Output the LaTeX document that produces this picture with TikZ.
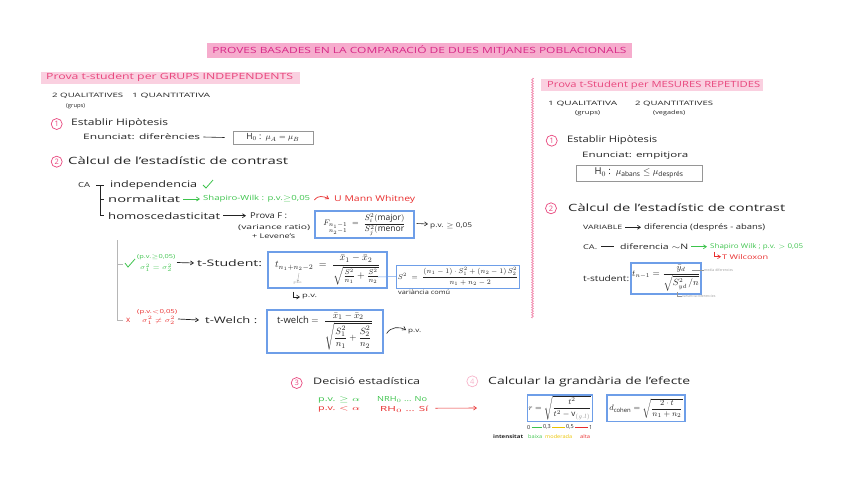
\documentclass[tikz,border=0pt]{standalone}
\usepackage{fontspec}
\setmainfont{Open Sans}
\usepackage{amsmath}
\usepackage{graphicx}
\usetikzlibrary{arrows.meta,decorations.pathmorphing,calc}
\definecolor{ink}{RGB}{35,35,35}
\definecolor{ttlpink}{RGB}{215,40,135}
\definecolor{hlpink}{RGB}{246,172,205}
\definecolor{hdpink}{RGB}{232,70,125}
\definecolor{hlpinkb}{RGB}{250,208,224}
\definecolor{cgreen}{RGB}{60,195,75}
\definecolor{cred}{RGB}{232,45,45}
\definecolor{cblue}{RGB}{110,158,232}
\definecolor{cyel}{RGB}{235,195,0}
\definecolor{cgrey}{RGB}{150,150,150}
\newcommand{\hw}[2]{\resizebox{#1pt}{\height}{#2}}
\tikzset{
  txt/.style={anchor=west,inner sep=0pt,text=ink},
  fs/.style={font=\fontsize{#1}{#1}\selectfont},
  num/.style={circle,draw=hdpink,text=hdpink,line width=0.7pt,inner sep=0pt,minimum size=11pt,font=\fontsize{7.5}{7.5}\selectfont},
  bbox/.style={draw=cblue,line width=1.3pt,inner sep=1pt,text=ink,font=\fontsize{8.5}{8.5}\selectfont},
  gbox/.style={draw=cgrey,line width=0.6pt,inner sep=1pt,text=ink,font=\fontsize{8.5}{9}\selectfont},
  arr/.style={-{Straight Barb[length=3pt,width=4pt]},line width=0.7pt},
}
\begin{document}
\begin{tikzpicture}[x=1pt,y=-1pt]
\useasboundingbox (0,0) rectangle (848,483);

% ---------- title ----------
\node[fill=hlpink,minimum width=425pt,minimum height=15pt,inner sep=0pt,text=ttlpink,fs=8.5] (title) at (419.5,50.5)
  {\hw{414}{PROVES BASADES EN LA COMPARACIÓ DE DUES MITJANES POBLACIONALS}};

% ---------- left header ----------
\fill[hlpinkb] (41,72) rectangle (300,84);
\node[txt,fs=8.5,text=hdpink] (lhead) at (46,77.7) {\hw{247}{Prova t-student per GRUPS INDEPENDENTS}};
\node[txt,fs=6] (lq1) at (52,95.5) {\hw{71}{2 QUALITATIVES}};
\node[txt,fs=6] (lq2) at (132,95.5) {\hw{78}{1 QUANTITATIVA}};
\node[txt,fs=5.5] (lq3) at (66,106) {\hw{19}{(grups)}};

% ---------- left step 1 ----------
\node[num] (n1) at (56.7,124) {1};
\node[txt,fs=9] (est1) at (71,122.7) {\hw{97}{Establir Hipòtesis}};
\node[txt,fs=7.5] (enu1) at (83,137) {\hw{117}{Enunciat: diferències}};
\node[gbox,minimum width=80pt,minimum height=13pt] (ho1) at (273,137.5) {H$_0$ :\enspace $\mu_A=\mu_B$};
\draw[line width=0.6pt,ink] ([xshift=3pt]enu1.east) -- ([xshift=-8pt]ho1.west);

% ---------- left step 2 ----------
\node[num] (n2) at (56.7,161.7) {2};
\node[txt,fs=10] (calc1) at (68,160.7) {\hw{220}{Càlcul de l'estadístic de contrast}};

\node[txt,fs=7] (ca1) at (78,185) {\hw{12}{CA}};
\draw[line width=0.6pt,ink] (96,185) -- (104,185);
\draw[line width=0.6pt,ink] (100,185) -- (100,215.7) -- (104,215.7);
\draw[line width=0.6pt,ink] (100,199) -- (104,199);
\node[txt,fs=9] (indep) at (110,185) {\hw{87}{independencia}};
\draw[cgreen,line width=0.8pt] (203,185) -- (206,188) -- (213,180);
\node[txt,fs=9] (norm) at (108,199) {\hw{72}{normalitat}};
\node[txt,fs=7,text=cgreen] (shap) at (203,199) {\hw{107}{Shapiro-Wilk : p.v.$\geq$0,05}};
\draw[arr,cgreen] ([xshift=3pt]norm.east) -- ([xshift=-3pt]shap.west);
\node[txt,fs=8,text=cred] (umw) at (334,199) {\hw{81}{U Mann Whitney}};
\draw[arr,cred] ([xshift=4pt,yshift=-1pt]shap.east) to[out=60,in=150] ([xshift=-5pt]umw.west);
\node[txt,fs=9] (homo) at (108,215.7) {\hw{112}{homoscedasticitat}};
\node[txt,fs=8] (provf) at (250,215.7) {\hw{37}{Prova F :}};
\draw[arr,ink] ([xshift=3pt]homo.east) -- ([xshift=-4pt]provf.west);
\node[txt,fs=6.5] (vr) at (238,227.7) {\hw{72}{(variance ratio)}};
\node[txt,fs=6.5] (lev) at (252,236.7) {\hw{43}{+ Levene's}};
\node[bbox,minimum width=99pt,minimum height=27pt,fs=8.5] (fbox) at (364.5,224.5)
  {$F_{\substack{n_1-1\\ n_2-1}}\;=\;\dfrac{S_i^2(\text{major})}{S_j^2(\text{menor}}$};
\node[txt,fs=6.5] (pvf) at (430,226) {\hw{42}{p.v. $\geq$ 0,05}};
\draw[arr,ink,line width=0.6pt] ([xshift=2pt,yshift=1pt]fbox.east) -- ([xshift=-2pt,yshift=2pt]pvf.west);

% grey branch line
\draw[cgrey!70,line width=0.6pt] (117.5,240) -- (117.5,320) -- (123,320);
\draw[cgrey!70,line width=0.6pt] (117.5,264) -- (123,264);

% ---- t-Student branch ----
\draw[cgreen,line width=0.8pt] (125,263) -- (128,267) -- (135,259);
\node[txt,fs=5.5,text=cgreen] (pvg) at (137,256.7) {\hw{38}{(p.v.$\geq$0,05)}};
\node[txt,fs=6.5,text=cgreen] (sigg) at (140,268) {\hw{32}{$\sigma_1^2=\sigma_2^2$}};
\node[txt,fs=9] (tstud) at (197,263) {\hw{65}{t-Student:}};
\draw[arr,ink] (177,262.5) -- ([xshift=-3pt]tstud.west);
\node[bbox,minimum width=119pt,minimum height=36pt,fs=10] (tbox) at (327.5,270)
  {$t_{n_1+n_2-2}\;=\;\dfrac{\bar{x}_1-\bar{x}_2}{\sqrt{\frac{S^2}{n_1}+\frac{S^2}{n_2}}}$};
\coordinate (gA) at (299,273);
\node[txt,fs=3,text=cgrey] (graus) at (293.5,283) {graus};
\draw[-{Straight Barb[length=1.5pt,width=2pt]},cgrey,line width=0.3pt] (gA) -- (graus.north);
\node[txt,fs=6] (pv1) at (302,297) {\hw{15}{p.v.}};
\draw[arr,ink,line width=0.6pt] (293,291.5) -- (293,297) -- ([xshift=-2pt]pv1.west);
\node[bbox,minimum width=120pt,minimum height=23pt,line width=1pt,fs=7] (s2box) at (458,276.5)
  {$S^2\;=\;\dfrac{(n_1-1)\cdot S_1^2+(n_2-1)\,S_2^2}{n_1+n_2-2}$};
\coordinate (s2ref) at (378,277);
\draw[cblue,line width=0.5pt] (s2ref) -- (s2box.west);
\node[txt,fs=6] (vcom) at (398,292.7) {\hw{52}{variància comú}};

% ---- t-Welch branch ----
\node[txt,fs=8,text=cred] (xr) at (126,320) {x};
\node[txt,fs=5.5,text=cred] (pvr) at (137,311.7) {\hw{40}{(p.v.$<$0,05)}};
\node[txt,fs=6.5,text=cred] (sigr) at (142,320.5) {\hw{33}{$\sigma_1^2\neq\sigma_2^2$}};
\node[txt,fs=9] (twel) at (205,320) {\hw{52}{t-Welch :}};
\draw[arr,ink] (178,319) -- ([xshift=-6pt]twel.west);
\node[bbox,minimum width=116pt,minimum height=43pt,fs=9.5] (wbox) at (325,331.5)
  {t-welch $=\;\dfrac{\bar{x}_1-\bar{x}_2}{\sqrt{\dfrac{S_1^2}{n_1}+\dfrac{S_2^2}{n_2}}}$};
\node[txt,fs=6] (pv2) at (408,332) {\hw{13}{p.v.}};
\draw[arr,ink,line width=0.6pt] ([xshift=3pt,yshift=-2pt]wbox.east) to[out=60,in=150] ([xshift=-2pt,yshift=2pt]pv2.west);

% ---------- divider ----------
\draw[hdpink!70,line width=0.6pt,decorate,decoration={zigzag,amplitude=1pt,segment length=2.5pt}] (532.5,78) -- (532.5,318);

% ---------- right header ----------
\fill[hlpinkb] (541,79) rectangle (763,91);
\node[txt,fs=8.5,text=hdpink] (rhead) at (547,85.3) {\hw{213}{Prova t-Student per MESURES REPETIDES}};
\node[txt,fs=6] (rq1) at (548,103.7) {\hw{69}{1 QUALITATIVA}};
\node[txt,fs=6] (rq2) at (635,103.7) {\hw{78}{2 QUANTITATIVES}};
\node[txt,fs=5.5] (rq3) at (575,112.7) {\hw{25}{(grups)}};
\node[txt,fs=5.5] (rq4) at (653,112.7) {\hw{32}{(vegades)}};

% right step 1
\node[num] (rn1) at (551.7,140.7) {1};
\node[txt,fs=9] (est2) at (567,140) {\hw{90}{Establir Hipòtesis}};
\node[txt,fs=7.5] (enu2) at (582,155.7) {\hw{106}{Enunciat: empitjora}};
\node[gbox,minimum width=126pt,minimum height=16.7pt,fs=9.5] (ho2) at (639,173.3)
  {H$_0$ :\enspace $\mu_{\text{abans}}\leq\mu_{\text{després}}$};

% right step 2
\node[num] (rn2) at (551,208.3) {2};
\node[txt,fs=10] (calc2) at (568,207.7) {\hw{217}{Càlcul de l'estadístic de contrast}};
\node[txt,fs=6] (var) at (583,227.3) {\hw{39}{VARIABLE}};
\node[txt,fs=7.5] (dif1) at (644,227.3) {\hw{121}{diferencia (després - abans)}};
\draw[arr,ink] ([xshift=3pt]var.east) -- ([xshift=-3pt]dif1.west);
\node[txt,fs=6.5] (ca2) at (583,246.7) {\hw{14}{CA.}};
\node[txt,fs=7.5] (dif2) at (620,246.7) {\hw{68}{diferencia $\sim$N}};
\draw[line width=0.6pt,ink] ([xshift=4pt]ca2.east) -- ([xshift=-6pt]dif2.west);
\node[txt,fs=6.5,text=cgreen] (shap2) at (710,246.7) {\hw{93}{Shapiro Wilk ; p.v. $>$ 0,05}};
\draw[arr,cgreen] ([xshift=3pt]dif2.east) -- ([xshift=-3pt]shap2.west);
\node[txt,fs=6.5,text=cred] (wil) at (722,256.7) {\hw{46}{T Wilcoxon}};
\draw[arr,cred,line width=0.6pt] (714,251.5) -- (714,256.7) -- ([xshift=-1pt]wil.west);
\node[txt,fs=8] (tst2) at (583,278.3) {\hw{46}{t-student:}};
\node[bbox,minimum width=70pt,minimum height=31pt,fs=9] (tbox2) at (666,278.5)
  {$t_{n-1}=\dfrac{\bar{y}_d}{\sqrt{S_{yd}^2\,/n}}$};
\node[txt,fs=3.5,text=cgrey] (mdif) at (704,270) {media diferencies};
\coordinate (mref) at (692,270);
\draw[cgrey,line width=0.3pt] (mref) -- (mdif.west);
\node[txt,fs=3.5,text=cgrey] (vdif) at (682,296) {variancia diferencies};
\coordinate (vref) at (677,292);
\draw[cgrey,line width=0.3pt] (vref) -- (677,296) -- (vdif.west);

% ---------- step 3 ----------
\node[num] (n3) at (296.7,383) {3};
\node[txt,fs=9] (dec) at (313,381.3) {\hw{107}{Decisió estadística}};
\node[txt,fs=7,text=cgreen] (g1) at (318,399.7) {\hw{42}{p.v. $\geq\alpha$}};
\node[txt,fs=7,text=cgreen] (g2) at (377,399.7) {\hw{50}{NRH$_0$ ... No}};
\node[txt,fs=7,text=cred] (r1) at (318,409.7) {\hw{42}{p.v. $<\alpha$}};
\node[txt,fs=7,text=cred] (r2) at (380,409.7) {\hw{48}{RH$_0$ ... Sí}};

% ---------- step 4 ----------
\node[num,draw=hdpink!40,text=hdpink!40] (n4) at (472.3,381.3) {4};
\node[txt,fs=10] (gran) at (488,382) {\hw{202}{Calcular la grandària de l'efecte}};
\draw[arr,cred,line width=0.6pt] ([xshift=7pt,yshift=1.5pt]r2.east) -- (477,408);
\node[bbox,minimum width=60pt,minimum height=26pt,fs=8] (rbox) at (560,408.2)
  {$r=\sqrt{\dfrac{t^2}{t^2-\mathrm{v}_{\color{cgrey}(g.l)}}}$};
\node[bbox,minimum width=78pt,minimum height=26.7pt,fs=8.5] (dbox) at (646,408.3)
  {$d_{\text{cohen}}=\sqrt{\dfrac{2\cdot t}{n_1+n_2}}$};

% scale
\node[txt,fs=5.5] (s0) at (527,427.3) {0};
\node[txt,fs=5.5] (s3) at (543,427.3) {0,3};
\node[txt,fs=5.5] (s5) at (566,427.3) {0,5};
\node[txt,fs=5.5] (s1) at (589,427.3) {1};
\draw[cgreen,line width=0.8pt] ([xshift=1pt]s0.east) -- ([xshift=-1pt]s3.west);
\draw[cyel,line width=0.8pt] ([xshift=1pt]s3.east) -- ([xshift=-1pt]s5.west);
\draw[cred,line width=0.8pt] ([xshift=1pt]s5.east) -- ([xshift=-1pt]s1.west);
\node[txt,fs=5] (int) at (493,436.3) {\hw{30}{\bfseries intensitat}};
\node[txt,fs=5,text=cgreen] (bx) at (528,436.3) {\hw{14}{baixa}};
\node[txt,fs=5,text=cyel] (md) at (545,436.3) {\hw{27}{moderada}};
\node[txt,fs=5,text=cred] (al) at (580,436.3) {\hw{10}{alta}};
\end{tikzpicture}
\end{document}
